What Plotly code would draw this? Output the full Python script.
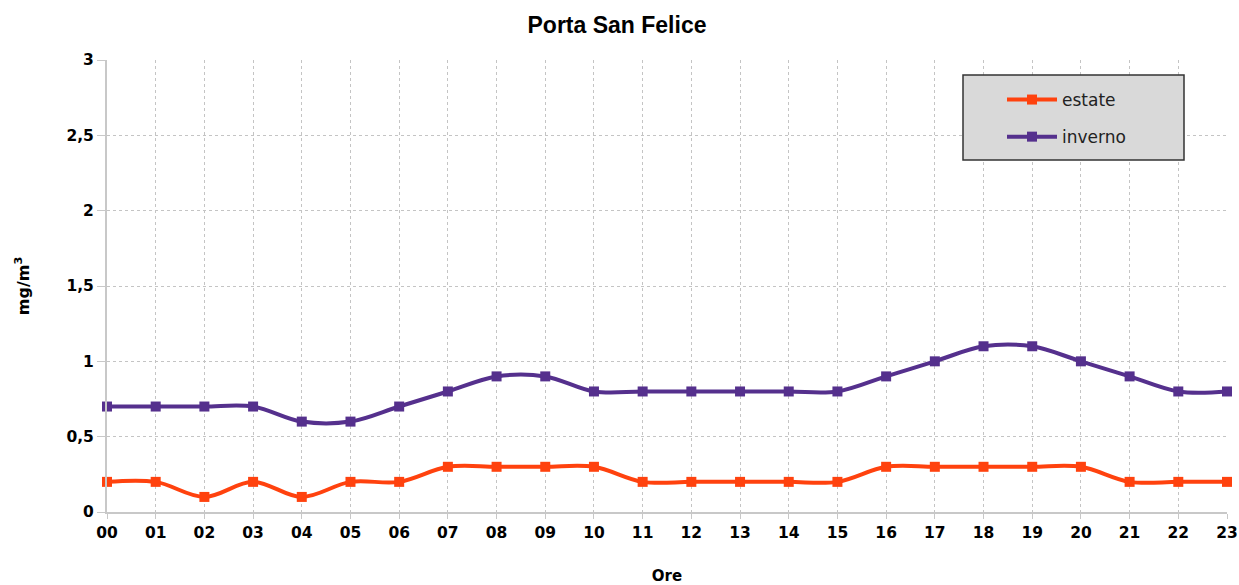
import plotly.graph_objects as go

hours = ["00","01","02","03","04","05","06","07","08","09","10","11",
         "12","13","14","15","16","17","18","19","20","21","22","23"]
estate = [0.2,0.2,0.1,0.2,0.1,0.2,0.2,0.3,0.3,0.3,0.3,0.2,
          0.2,0.2,0.2,0.2,0.3,0.3,0.3,0.3,0.3,0.2,0.2,0.2]
inverno = [0.7,0.7,0.7,0.7,0.6,0.6,0.7,0.8,0.9,0.9,0.8,0.8,
           0.8,0.8,0.8,0.8,0.9,1.0,1.1,1.1,1.0,0.9,0.8,0.8]
yticks = [0, 0.5, 1, 1.5, 2, 2.5, 3]

# body margin is removed by post_script, so figure == window
OFF = 0
W, H = 1239, 585
L, T = 107, 60
R = W - 1227
B = H - 512
PW, PH = W - L - R, H - T - B

def px_x(x):
    return (x - OFF - L) / PW

def px_y(y):
    return (OFF + T + PH - y) / PH

xs = list(range(len(hours)))
fig = go.Figure()
fig.add_trace(go.Scatter(x=xs, y=estate, name="estate", mode="lines+markers",
                         line=dict(color="#FF420E", width=4, shape="spline", smoothing=1.0),
                         marker=dict(symbol="square", size=10, color="#FF420E"),
                         cliponaxis=False, legendgroup="a"))
fig.add_trace(go.Scatter(x=xs, y=inverno, name="inverno", mode="lines+markers",
                         line=dict(color="#55308D", width=4, shape="spline", smoothing=1.0),
                         marker=dict(symbol="square", size=10, color="#55308D"),
                         cliponaxis=False, legendgroup="b"))

fig.add_shape(type="rect", xref="paper", yref="paper",
              x0=px_x(963), x1=px_x(1184), y0=px_y(160), y1=px_y(75),
              fillcolor="#d9d9d9", line=dict(color="#333333", width=1.5), layer="above")

fig.update_layout(
    width=W, height=H,
    margin=dict(l=L, r=R, t=T, b=B, autoexpand=False),
    paper_bgcolor="white", plot_bgcolor="white",
    separators=",.",
    font=dict(family="DejaVu Sans", color="black"),
    title=dict(text="<b>Porta San Felice</b>", x=(617 - OFF) / W, xanchor="center",
               y=1 - (25 - OFF) / H, yanchor="middle",
               font=dict(family="Liberation Sans", size=23, color="black")),
    showlegend=True,
    legend=dict(x=px_x(1002), y=px_y(82), xanchor="left", yanchor="top",
                bgcolor="rgba(0,0,0,0)", borderwidth=0, itemwidth=50,
                font=dict(family="DejaVu Sans", size=17, color="#222222"),
                traceorder="grouped", tracegroupgap=12),
    xaxis=dict(range=[0, 23], tickvals=xs, ticktext=hours, automargin=False,
               ticklabeloverflow="allow",
               showgrid=True, gridcolor="#c4c4c4", griddash="3px,3px", gridwidth=1,
               showline=True, linecolor="#c8c8c8", linewidth=2,
               ticks="outside", ticklen=5, tickcolor="#c8c8c8",
               tickfont=dict(size=15.5, family="DejaVu Sans"), zeroline=False,
               title=dict(text="<b>Ore</b>", font=dict(size=15), standoff=42)),
    yaxis=dict(range=[0, 3], tickvals=yticks, automargin=False,
               ticklabeloverflow="allow",
               showgrid=True, gridcolor="#c4c4c4", griddash="3px,3px", gridwidth=1,
               showline=True, linecolor="#c8c8c8", linewidth=2,
               ticks="outside", ticklen=8, tickcolor="#c8c8c8",
               tickfont=dict(size=15.5, family="DejaVu Sans"), zeroline=False,
               title=dict(text="<b>mg/m<sup>3</sup></b>", font=dict(size=16), standoff=33)),
)
fig.update_layout(xaxis_tickfont_weight="bold", yaxis_tickfont_weight="bold")
fig.write_html("out.html", config={"displayModeBar": False},
               post_script="document.body.style.margin='0';document.body.style.overflow='hidden';")
